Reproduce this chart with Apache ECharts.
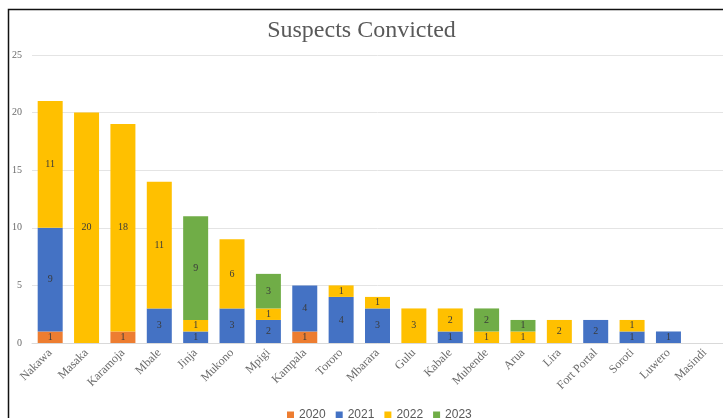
<!DOCTYPE html>
<html>
<head>
<meta charset="utf-8">
<script src="https://cdn.jsdelivr.net/npm/echarts@6/dist/echarts.min.js"></script>
<style>
  html, body { margin: 0; padding: 0; background: #fff; }
  #chart { width: 723px; height: 418px; }
</style>
</head>
<body>
<div id="chart"></div>
<script>
// Convictions per district, stacked by year
const districts = ['Nakawa', 'Masaka', 'Karamoja', 'Mbale', 'Jinja', 'Mukono', 'Mpigi', 'Kampala', 'Tororo', 'Mbarara', 'Gulu', 'Kabale', 'Mubende', 'Arua', 'Lira', 'Fort Portal', 'Soroti', 'Luwero', 'Masindi'];
const years = ['2020', '2021', '2022', '2023'];
const y2020 = [1, 0, 1, 0, 0, 0, 0, 1, 0, 0, 0, 0, 0, 0, 0, 0, 0, 0, 0];
const y2021 = [9, 0, 0, 3, 1, 3, 2, 4, 4, 3, 0, 1, 0, 0, 0, 2, 1, 1, 0];
const y2022 = [11, 20, 18, 11, 1, 6, 1, 0, 1, 1, 3, 2, 1, 1, 2, 0, 1, 0, 0];
const y2023 = [0, 0, 0, 0, 9, 0, 3, 0, 0, 0, 0, 0, 2, 1, 0, 0, 0, 0, 0];
const yTicks = [0, 5, 10, 15, 20, 25];

const colors = ['#ED7D31', '#4472C4', '#FFC000', '#70AD47'];
const values = [y2020, y2021, y2022, y2023];

const chart = echarts.init(document.getElementById('chart'));

const series = years.map((name, i) => ({
  name,
  type: 'bar',
  stack: 'total',
  barWidth: 25,
  data: values[i],
  itemStyle: { color: colors[i] },
  label: {
    show: true,
    position: 'inside',
    fontFamily: 'Liberation Serif',
    fontSize: 10,
    color: '#3a3a3a',
    formatter: p => (p.value ? String(p.value) : '')
  }
}));

chart.setOption({
  animation: false,
  backgroundColor: '#fff',
  title: {
    text: 'Suspects Convicted',
    left: 'center',
    top: 14,
    textStyle: {
      fontFamily: 'Liberation Serif',
      fontWeight: 'normal',
      fontSize: 24,
      color: '#595959'
    }
  },
  legend: {
    data: years,
    top: 404,
    left: 282,
    icon: 'rect',
    itemWidth: 7,
    itemHeight: 7,
    itemGap: 10,
    textStyle: { fontFamily: 'Liberation Sans', fontSize: 12, color: '#595959' }
  },
  grid: { left: 32, top: 55, width: 700, bottom: 75, containLabel: false },
  xAxis: {
    type: 'category',
    data: districts,
    axisTick: { show: false },
    axisLine: { lineStyle: { color: '#d9d9d9' } },
    axisLabel: {
      rotate: 45,
      interval: 0,
      margin: 8,
      fontFamily: 'Liberation Serif',
      fontSize: 12,
      color: '#6a6a6a'
    }
  },
  yAxis: {
    type: 'value',
    min: yTicks[0],
    max: yTicks[yTicks.length - 1],
    interval: 5,
    axisLine: { show: false },
    axisTick: { show: false },
    splitLine: { lineStyle: { color: '#e4e4e4' } },
    axisLabel: {
      margin: 10,
      fontFamily: 'Liberation Serif',
      fontSize: 10,
      color: '#6a6a6a'
    }
  },
  graphic: [{
    type: 'rect',
    silent: true,
    z: 100,
    shape: { x: 8.5, y: 9.5, width: 800, height: 500 },
    style: { fill: 'none', stroke: '#111', lineWidth: 1.5 }
  }],
  series
});
</script>
</body>
</html>
